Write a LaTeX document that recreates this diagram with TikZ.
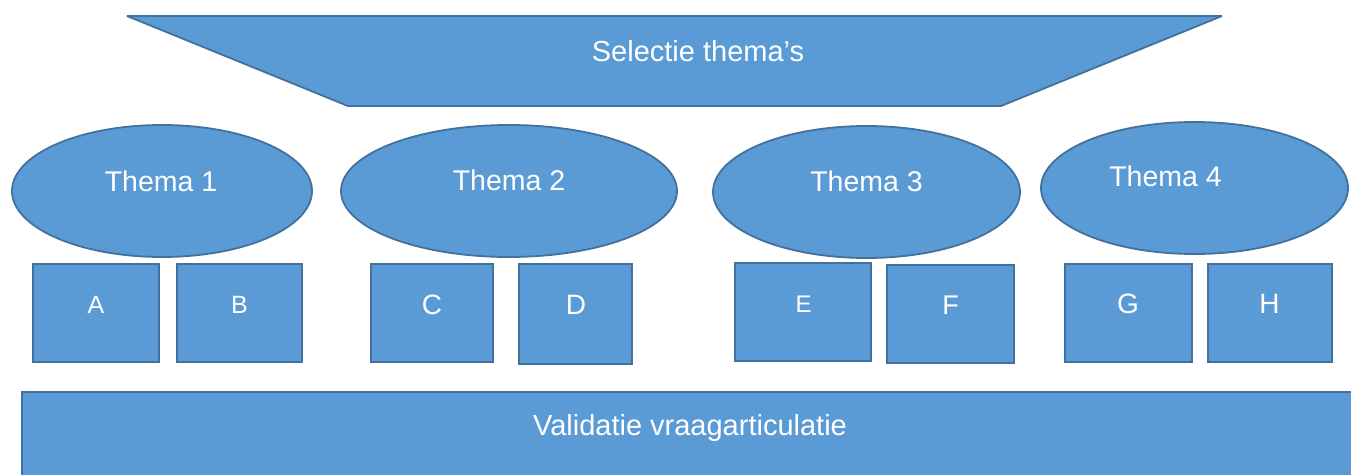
\documentclass[tikz,border=0pt]{standalone}
\usepackage{fontspec}
\setmainfont{Liberation Sans}
\usetikzlibrary{shapes.geometric}
\definecolor{boxfill}{HTML}{5B9BD5}
\definecolor{boxline}{HTML}{41719C}
\tikzset{
  shapestyle/.style={fill=boxfill, draw=boxline, line width=1.8pt},
  oval/.style={shapestyle, ellipse, inner sep=0pt},
  cell/.style={shapestyle, rectangle, inner sep=0pt},
  caption/.style={text=white, anchor=base, inner sep=0pt},
}
\newcommand{\fs}[1]{\fontsize{#1}{#1}\selectfont}
\begin{document}
\begin{tikzpicture}[x=1pt, y=-1pt]
\clip (0,0) rectangle (1351,474);
\fill[white] (0,0) rectangle (1351,474);

% top funnel: theme selection
\draw[shapestyle, line join=bevel] (127,16) -- (1222,16) -- (1001,106) -- (348,106) -- cycle;
\node[caption] (sel) at (698,61) {\fs{29}Selectie thema’s};

% themes
\node[oval, minimum width=300pt, minimum height=132pt] (t1) at (162,191) {};
\node[oval, minimum width=336pt, minimum height=132pt] (t2) at (509,191) {};
\node[oval, minimum width=307pt, minimum height=132pt] (t3) at (866.5,192) {};
\node[oval, minimum width=307pt, minimum height=132pt] (t4) at (1194.5,188) {};
\node[caption] (t1l) at (161,191) {\fs{28.5}Thema 1};
\node[caption] (t2l) at (509,190) {\fs{28.5}Thema 2};
\node[caption] (t3l) at (866.5,191) {\fs{28.5}Thema 3};
\node[caption] (t4l) at (1165.5,186) {\fs{28.5}Thema 4};

% sub-topics
\node[cell, minimum width=126pt, minimum height=98pt] (a) at (96,313) {};
\node[cell, minimum width=125pt, minimum height=98pt] (b) at (239.5,313) {};
\node[cell, minimum width=122pt, minimum height=98pt] (c) at (432,313) {};
\node[cell, minimum width=113pt, minimum height=100pt] (d) at (575.5,314) {};
\node[cell, minimum width=136pt, minimum height=98pt] (e) at (803,312) {};
\node[cell, minimum width=127pt, minimum height=98pt] (f) at (950.5,314) {};
\node[cell, minimum width=127pt, minimum height=98pt] (g) at (1128.5,313) {};
\node[cell, minimum width=124pt, minimum height=98pt] (h) at (1270,313) {};
\node[caption] (al) at (96,313) {\fs{25}A};
\node[caption] (bl) at (239.5,313) {\fs{25}B};
\node[caption] (cl) at (432,314) {\fs{28}C};
\node[caption] (dl) at (576,314) {\fs{28}D};
\node[caption] (el) at (803.5,312) {\fs{24}E};
\node[caption] (fl) at (950.5,314) {\fs{27}F};
\node[caption] (gl) at (1128,313) {\fs{28}G};
\node[caption] (hl) at (1269.5,313) {\fs{28}H};

% validation bar
\draw[shapestyle] (22,392) rectangle (1370,490);
\node[caption] (val) at (690,435) {\fs{29}Validatie vraagarticulatie};
\end{tikzpicture}
\end{document}
